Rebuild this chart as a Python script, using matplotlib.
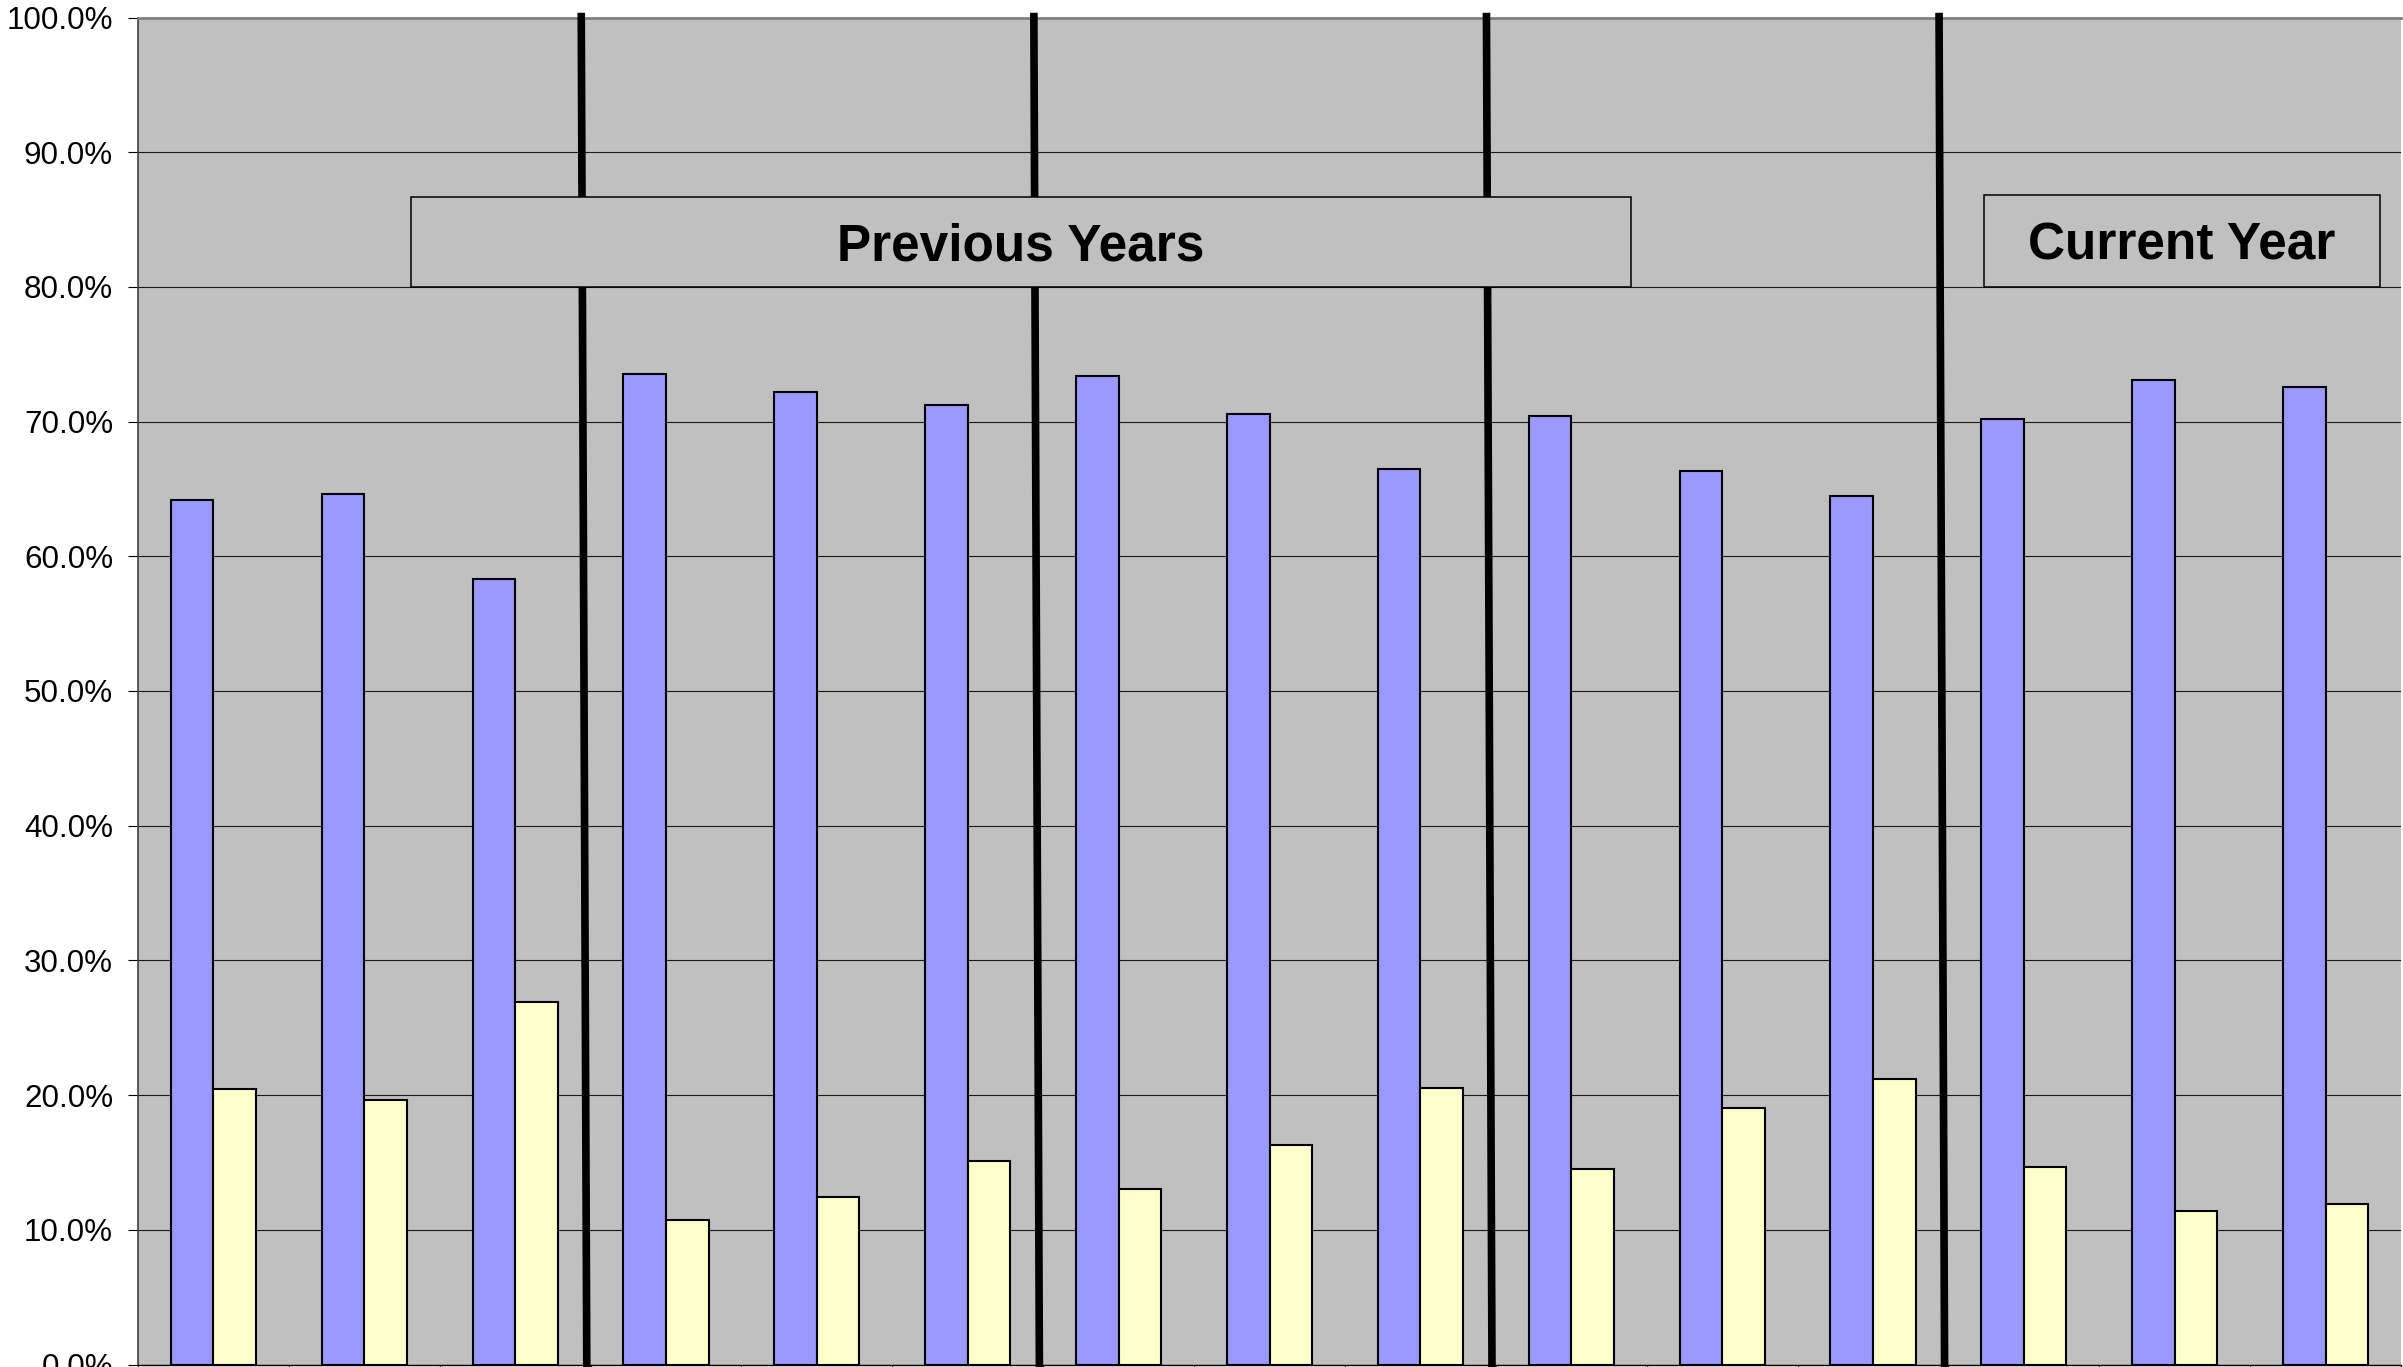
import matplotlib
matplotlib.use("Agg")
import matplotlib.pyplot as plt
from matplotlib.patches import Rectangle
from matplotlib.ticker import FixedLocator, FuncFormatter

# Fifteen periods, grouped in five blocks of three
group_sizes = [3, 3, 3, 3, 3]
series_a = [64.2, 64.6, 58.3, 73.5, 72.2, 71.25, 73.4, 70.6, 66.5, 70.4,
            66.3, 64.5, 70.2, 73.1, 72.55]
series_b = [20.45, 19.65, 26.9, 10.75, 12.4, 15.1, 13.05, 16.3, 20.55, 14.5,
            19.05, 21.2, 14.65, 11.4, 11.9]
y_ticks = [0, 10, 20, 30, 40, 50, 60, 70, 80, 90, 100]
banner_labels = ["Previous Years", "Current Year"]

BG = "#C0C0C0"
BLUE = "#9999FF"
YELLOW = "#FFFFCC"

plt.rcParams["font.family"] = ["Liberation Sans", "DejaVu Sans"]

W, H = 2403, 1367
fig = plt.figure(figsize=(W / 100, H / 100), dpi=100)
fig.patch.set_facecolor("white")

left_px, right_px, top_px, bottom_px = 138, 2401, 17.5, 1364.5
ax = fig.add_axes([left_px / W, (H - bottom_px) / H,
                   (right_px - left_px) / W, (bottom_px - top_px) / H])
ax.set_facecolor(BG)

n = len(series_a)
x = list(range(n))
bw = 0.282
ax.bar([i - bw / 2 for i in x], series_a, width=bw, color=BLUE,
       edgecolor="black", linewidth=1.5, zorder=3)
ax.bar([i + bw / 2 for i in x], series_b, width=bw, color=YELLOW,
       edgecolor="black", linewidth=1.5, zorder=3)

ax.set_xlim(-0.5, n - 0.5)
ax.set_ylim(0, 100)

# y axis: percentage ticks with horizontal grid lines
ax.yaxis.set_major_locator(FixedLocator(y_ticks))
ax.yaxis.set_major_formatter(FuncFormatter(lambda v, p: f"{v:.1f}%"))
ax.tick_params(axis="y", direction="out", length=7.5, width=0.8,
               labelsize=22.6, pad=10.5, colors="black")
ax.grid(axis="y", color="#1a1a1a", linewidth=0.8, zorder=1)

# x axis: tick marks on category boundaries only
ax.xaxis.set_major_locator(FixedLocator([i - 0.5 for i in range(n + 1)]))
ax.set_xticklabels([])
ax.tick_params(axis="x", direction="out", length=8, width=0.8)

ax.spines["right"].set_visible(False)
ax.spines["top"].set_color("#808080")
ax.spines["top"].set_linewidth(2.0)
ax.spines["left"].set_color("#404040")
ax.spines["left"].set_linewidth(1.2)
ax.spines["bottom"].set_color("black")
ax.spines["bottom"].set_linewidth(1.0)

# thick separators between the blocks of periods
bounds = []
acc = 0
for g in group_sizes[:-1]:
    acc += g
    bounds.append(acc - 0.5)
for b in bounds:
    ax.plot([b - 0.062, b - 0.025], [100.35, -1.0], color="black",
            linewidth=5.5, solid_capstyle="butt", zorder=4, clip_on=False)

# banners over the two ranges
banners = [
    (1.309, 9.398, 80.0, 86.7, banner_labels[0]),
    (11.735, 14.36, 80.0, 86.8, banner_labels[1]),
]
cap_half = 1.37  # half the capital height of the banner font, in axis units
for x0, x1, y0, y1, label in banners:
    ax.add_patch(Rectangle((x0, y0), x1 - x0, y1 - y0, facecolor=BG,
                           edgecolor="black", linewidth=1.1, zorder=5))
    ax.text((x0 + x1) / 2, (y0 + y1) / 2 - cap_half, label, ha="center",
            va="baseline", fontsize=37, fontweight="bold", color="black",
            zorder=6)

fig.savefig("out.png", dpi=100, facecolor="white")
